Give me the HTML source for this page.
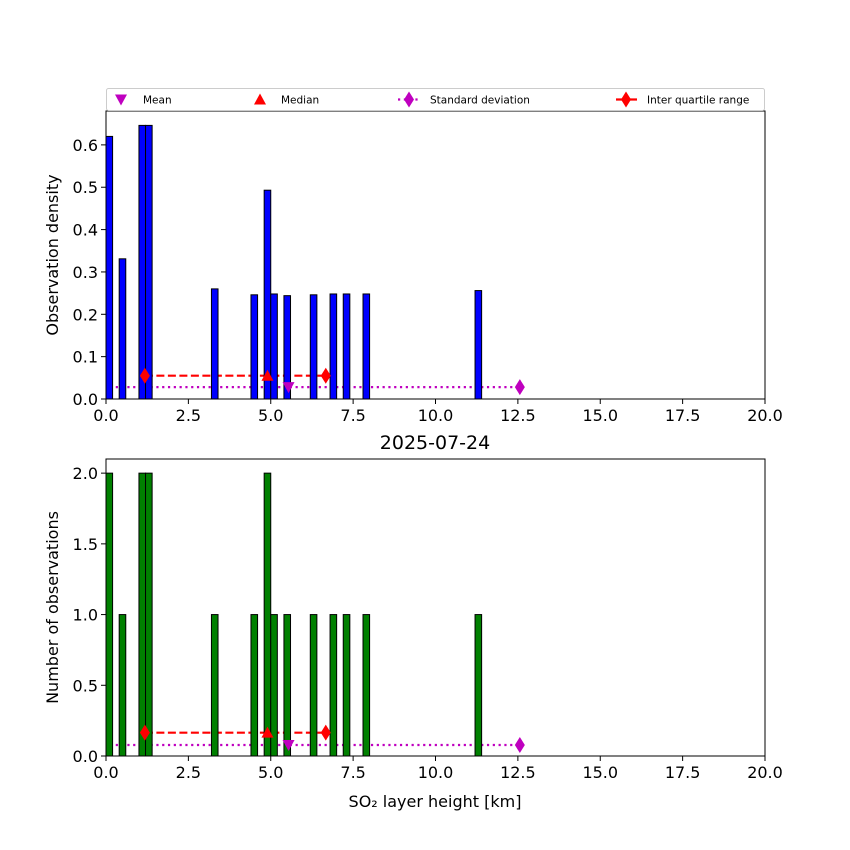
<!DOCTYPE html>
<html><head><meta charset="utf-8"><style>body{margin:0;background:#fff}svg{display:block;font-family:"DejaVu Sans","Liberation Sans",sans-serif}</style></head>
<body>
<svg id="chart" width="850" height="850" viewBox="0 0 850 850"></svg>
<script>
const binStarts=[0,0.4,1.0,1.2,3.2,4.4,4.8,5.0,5.4,6.2,6.8,7.2,7.8,11.2];
const binWidth=0.2;
const densities=[0.62,0.331,0.646,0.646,0.26,0.246,0.493,0.248,0.244,0.246,0.248,0.248,0.248,0.256];
const counts=[2,1,2,2,1,1,2,1,1,1,1,1,1,1];
const xTicks=[0,2.5,5,7.5,10,12.5,15,17.5,20];
const yTicksTop=[0,0.1,0.2,0.3,0.4,0.5,0.6];
const yTicksBottom=[0,0.5,1.0,1.5,2.0];
const statMean=5.54, statMedian=4.9, statIqr=[1.18,6.67], statStd=[0.12,12.56];
const statYTop={mean:0.028,median:0.055,iqr:0.055,std:0.028};
const statYBottom={mean:0.078,median:0.165,iqr:0.165,std:0.078};

const NS="http://www.w3.org/2000/svg";
const svg=document.getElementById('chart');
function mk(tag,attrs,parent){const e=document.createElementNS(NS,tag);for(const k in attrs)e.setAttribute(k,attrs[k]);(parent||svg).appendChild(e);return e;}
const X0=106,X1=765;
const sx=v=>X0+(v-0)/(20-0)*(X1-X0);

function marker(kind,x,y,color,g){
  let p;
  if(kind==='down')p=`M${x-6},${y-5} L${x+6},${y-5} L${x},${y+6} Z`;
  else if(kind==='up')p=`M${x-6},${y+5} L${x+6},${y+5} L${x},${y-6} Z`;
  else p=`M${x},${y-8} L${x+5},${y} L${x},${y+8} L${x-5},${y} Z`;
  return mk('path',{d:p,fill:color},g);
}

function panel(name,top,bottom,ymax,vals,color,yTicks,ylabel,st,fmt){
  const g=mk('g',{});
  
  
  const sy=v=>bottom-v/ymax*(bottom-top);
  // stat lines
  const sl=mk('line',{x1:sx(statStd[0]),x2:sx(statStd[1]),y1:sy(st.std),y2:sy(st.std),stroke:'#bf00bf','stroke-width':2.2,'stroke-dasharray':'2.2,3.6'},g);
  
  
  const il=mk('line',{x1:sx(statIqr[0]),x2:sx(statIqr[1]),y1:sy(st.iqr),y2:sy(st.iqr),stroke:'#ff0000','stroke-width':2.2,'stroke-dasharray':'8,3.5'},g);
  
  
  // bars
  binStarts.forEach((b,i)=>{
    const r=mk('rect',{x:sx(b),y:sy(vals[i]),width:sx(b+binWidth)-sx(b),height:bottom-sy(vals[i]),fill:color,stroke:'#000','stroke-width':1},g);
    
    
  });
  // markers
  const m1=marker('down',sx(statMean),sy(st.mean),'#bf00bf',g);
  
  
  const m2=marker('up',sx(statMedian),sy(st.median),'#ff0000',g);
  
  
  statIqr.forEach(v=>{const d=marker('dia',sx(v),sy(st.iqr),'#ff0000',g);
    
    });
  const sd=marker('dia',sx(statStd[1]),sy(st.std),'#bf00bf',g);
  
  
  // frame
  const fr=mk('rect',{x:X0,y:top,width:X1-X0,height:bottom-top,fill:'none',stroke:'#000','stroke-width':1},g);
  
  
  xTicks.forEach(t=>{
    mk('line',{x1:sx(t),x2:sx(t),y1:bottom,y2:bottom+5,stroke:'#000'},g);
    const tx=mk('text',{x:sx(t),y:bottom+22,'text-anchor':'middle','font-size':16},g);
    tx.textContent=t.toFixed(1);
    
    
  });
  yTicks.forEach(t=>{
    mk('line',{x1:X0-5,x2:X0,y1:sy(t),y2:sy(t),stroke:'#000'},g);
    const tx=mk('text',{x:X0-8,y:sy(t)+6,'text-anchor':'end','font-size':16},g);
    tx.textContent=t.toFixed(1);
    
    
  });
  const yl=mk('text',{x:0,y:0,'text-anchor':'middle','font-size':16,transform:`translate(58,${(top+bottom)/2}) rotate(-90)`},g);
  yl.textContent=ylabel;
  
  
}
panel('density-panel',111,399,0.68,densities,'#0000ff',yTicksTop,'Observation density',statYTop);
panel('count-panel',459,756,2.1,counts,'#008000',yTicksBottom,'Number of observations',statYBottom);

const title=mk('text',{x:435,y:449,'text-anchor':'middle','font-size':19});
title.textContent='2025-07-24';


const xl=mk('text',{x:435,y:807,'text-anchor':'middle','font-size':16});
xl.textContent='SO₂ layer height [km]';



// legend
const lg=mk('g',{});


mk('rect',{x:106.5,y:88.5,width:658,height:22,rx:2,fill:'#fff',stroke:'#ccc'},lg);
const ly=99.5;
marker('down',121,ly,'#bf00bf',lg);
marker('up',260,ly,'#ff0000',lg);
mk('line',{x1:398,x2:421,y1:ly,y2:ly,stroke:'#bf00bf','stroke-width':2.2,'stroke-dasharray':'2.2,3.6'},lg);
marker('dia',409,ly,'#bf00bf',lg);
mk('line',{x1:616,x2:637,y1:ly,y2:ly,stroke:'#ff0000','stroke-width':2.2},lg);
marker('dia',626,ly,'#ff0000',lg);
[['Mean',143],['Median',281],['Standard deviation',430],['Inter quartile range',647]].forEach(([t,x])=>{
  const e=mk('text',{x:x,y:ly+4,'font-size':10.5},lg);
  e.textContent=t;
  
  
});
</script>
</body></html>
